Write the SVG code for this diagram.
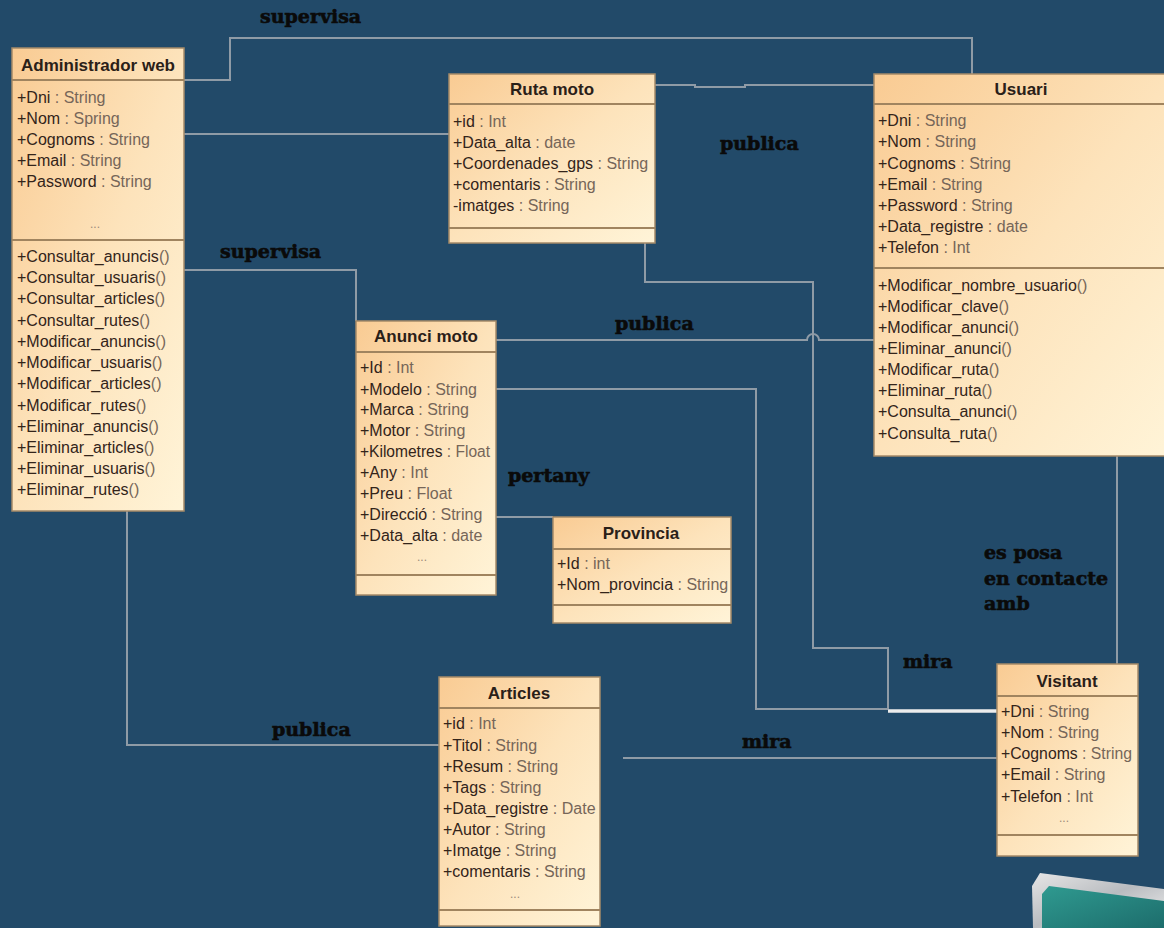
<svg xmlns="http://www.w3.org/2000/svg" width="1164" height="928" viewBox="0 0 1164 928">
<defs>
<linearGradient id="boxg" x1="0" y1="0" x2="1" y2="1">
<stop offset="0" stop-color="#f9cb93"/>
<stop offset="0.5" stop-color="#fde3bb"/>
<stop offset="1" stop-color="#fff4d8"/>
</linearGradient>
<linearGradient id="bezel" x1="0" y1="0" x2="1" y2="1">
<stop offset="0" stop-color="#e6e6e6"/>
<stop offset="0.5" stop-color="#b9bcc0"/>
<stop offset="1" stop-color="#f2f2f2"/>
</linearGradient>
<linearGradient id="screen" x1="0" y1="0" x2="1" y2="1">
<stop offset="0" stop-color="#2f9a90"/>
<stop offset="1" stop-color="#1d6d6c"/>
</linearGradient>
<style>
.box{fill:url(#boxg);stroke:#a58a68;stroke-width:1.5}
.sep{stroke:#a0845f;stroke-width:2}
.t{font-family:"Liberation Sans",Arial,sans-serif;font-size:17px;font-weight:bold;fill:#2a2018;text-anchor:middle}
.a{font-family:"Liberation Sans",Arial,sans-serif;font-size:16px;fill:#33241a}
.ty{fill:#766659}
.dots{font-family:"Liberation Sans",Arial,sans-serif;font-size:12px;fill:#9a8a7a;text-anchor:middle}
.c{stroke:#8f9ba6;stroke-width:2;fill:none}
.lb{font-family:"DejaVu Serif",serif;font-size:19px;font-weight:bold;fill:#0a0a0a;stroke:#0a0a0a;stroke-width:0.6}
</style>
</defs>
<rect width="1164" height="928" fill="#224a69"/>

<g id="connectors">
<polyline class="c" points="184,80 230,80 230,38 972,38 972,74"/>
<line class="c" x1="184" y1="134" x2="449" y2="134"/>
<polyline class="c" points="655,85 695,85 695,87 745,87 745,85 874,85"/>
<polyline class="c" points="184,270 356,270 356,321"/>
<path class="c" d="M496,340 H807 A6,6 0 0 1 819,340 H874"/>
<polyline class="c" points="645,243 645,282 813,282 813,648 888,648 888,709"/>
<polyline class="c" points="496,389 756,389 756,709 888,709"/>
<line x1="888" y1="711" x2="997" y2="711" stroke="#ececec" stroke-width="3.5"/>
<line class="c" x1="496" y1="517" x2="553" y2="517"/>
<polyline class="c" points="127,511 127,745 439,745"/>
<line class="c" x1="623" y1="758" x2="997" y2="758"/>
<line class="c" x1="1117" y1="456" x2="1117" y2="664"/>
<text class="lb" x="260" y="23">supervisa</text>
<text class="lb" x="720" y="150">publica</text>
<text class="lb" x="220" y="258">supervisa</text>
<text class="lb" x="615" y="330">publica</text>
<text class="lb" x="508" y="482">pertany</text>
<text class="lb" x="984" y="559">es posa</text>
<text class="lb" x="984" y="585">en contacte</text>
<text class="lb" x="984" y="610">amb</text>
<text class="lb" x="903" y="668">mira</text>
<text class="lb" x="272" y="736">publica</text>
<text class="lb" x="742" y="748">mira</text>
</g>

<g id="admin">
<rect class="box" x="12" y="48" width="172" height="463"/>
<line class="sep" x1="12" y1="80" x2="184" y2="80"/>
<line class="sep" x1="12" y1="240" x2="184" y2="240"/>
<text class="t" x="98" y="71">Administrador web</text>
<text class="a" x="17" y="103">+Dni<tspan class="ty"> : String</tspan></text>
<text class="a" x="17" y="124">+Nom<tspan class="ty"> : Spring</tspan></text>
<text class="a" x="17" y="145">+Cognoms<tspan class="ty"> : String</tspan></text>
<text class="a" x="17" y="166">+Email<tspan class="ty"> : String</tspan></text>
<text class="a" x="17" y="187">+Password<tspan class="ty"> : String</tspan></text>
<text class="dots" x="95" y="228">...</text>
<text class="a" x="17" y="262">+Consultar_anuncis<tspan class="ty">()</tspan></text>
<text class="a" x="17" y="283">+Consultar_usuaris<tspan class="ty">()</tspan></text>
<text class="a" x="17" y="304">+Consultar_articles<tspan class="ty">()</tspan></text>
<text class="a" x="17" y="326">+Consultar_rutes<tspan class="ty">()</tspan></text>
<text class="a" x="17" y="347">+Modificar_anuncis<tspan class="ty">()</tspan></text>
<text class="a" x="17" y="368">+Modificar_usuaris<tspan class="ty">()</tspan></text>
<text class="a" x="17" y="389">+Modificar_articles<tspan class="ty">()</tspan></text>
<text class="a" x="17" y="411">+Modificar_rutes<tspan class="ty">()</tspan></text>
<text class="a" x="17" y="432">+Eliminar_anuncis<tspan class="ty">()</tspan></text>
<text class="a" x="17" y="453">+Eliminar_articles<tspan class="ty">()</tspan></text>
<text class="a" x="17" y="474">+Eliminar_usuaris<tspan class="ty">()</tspan></text>
<text class="a" x="17" y="495">+Eliminar_rutes<tspan class="ty">()</tspan></text>
</g>

<g id="ruta">
<rect class="box" x="449" y="74" width="206" height="169"/>
<line class="sep" x1="449" y1="104" x2="655" y2="104"/>
<line class="sep" x1="449" y1="228" x2="655" y2="228"/>
<text class="t" x="552" y="95">Ruta moto</text>
<text class="a" x="453" y="127">+id<tspan class="ty"> : Int</tspan></text>
<text class="a" x="453" y="148">+Data_alta<tspan class="ty"> : date</tspan></text>
<text class="a" x="453" y="169">+Coordenades_gps<tspan class="ty"> : String</tspan></text>
<text class="a" x="453" y="190">+comentaris<tspan class="ty"> : String</tspan></text>
<text class="a" x="453" y="211">-imatges<tspan class="ty"> : String</tspan></text>
</g>

<g id="usuari">
<rect class="box" x="874" y="74" width="300" height="382"/>
<line class="sep" x1="874" y1="104" x2="1164" y2="104"/>
<line class="sep" x1="874" y1="268" x2="1164" y2="268"/>
<text class="t" x="1021" y="95">Usuari</text>
<text class="a" x="878" y="126">+Dni<tspan class="ty"> : String</tspan></text>
<text class="a" x="878" y="147">+Nom<tspan class="ty"> : String</tspan></text>
<text class="a" x="878" y="169">+Cognoms<tspan class="ty"> : String</tspan></text>
<text class="a" x="878" y="190">+Email<tspan class="ty"> : String</tspan></text>
<text class="a" x="878" y="211">+Password<tspan class="ty"> : String</tspan></text>
<text class="a" x="878" y="232">+Data_registre<tspan class="ty"> : date</tspan></text>
<text class="a" x="878" y="253">+Telefon<tspan class="ty"> : Int</tspan></text>
<text class="a" x="878" y="291">+Modificar_nombre_usuario<tspan class="ty">()</tspan></text>
<text class="a" x="878" y="312">+Modificar_clave<tspan class="ty">()</tspan></text>
<text class="a" x="878" y="333">+Modificar_anunci<tspan class="ty">()</tspan></text>
<text class="a" x="878" y="354">+Eliminar_anunci<tspan class="ty">()</tspan></text>
<text class="a" x="878" y="375">+Modificar_ruta<tspan class="ty">()</tspan></text>
<text class="a" x="878" y="396">+Eliminar_ruta<tspan class="ty">()</tspan></text>
<text class="a" x="878" y="417">+Consulta_anunci<tspan class="ty">()</tspan></text>
<text class="a" x="878" y="439">+Consulta_ruta<tspan class="ty">()</tspan></text>
</g>

<g id="anunci">
<rect class="box" x="356" y="321" width="140" height="274"/>
<line class="sep" x1="356" y1="352" x2="496" y2="352"/>
<line class="sep" x1="356" y1="575" x2="496" y2="575"/>
<text class="t" x="426" y="342">Anunci moto</text>
<text class="a" x="360" y="373">+Id<tspan class="ty"> : Int</tspan></text>
<text class="a" x="360" y="395">+Modelo<tspan class="ty"> : String</tspan></text>
<text class="a" x="360" y="415">+Marca<tspan class="ty"> : String</tspan></text>
<text class="a" x="360" y="436">+Motor<tspan class="ty"> : String</tspan></text>
<text class="a" x="360" y="457" textLength="130" lengthAdjust="spacingAndGlyphs">+Kilometres<tspan class="ty"> : Float</tspan></text>
<text class="a" x="360" y="478">+Any<tspan class="ty"> : Int</tspan></text>
<text class="a" x="360" y="499">+Preu<tspan class="ty"> : Float</tspan></text>
<text class="a" x="360" y="520">+Direcció<tspan class="ty"> : String</tspan></text>
<text class="a" x="360" y="541">+Data_alta<tspan class="ty"> : date</tspan></text>
<text class="dots" x="422" y="561">...</text>
</g>

<g id="provincia">
<rect class="box" x="553" y="517" width="178" height="106"/>
<line class="sep" x1="553" y1="549" x2="731" y2="549"/>
<line class="sep" x1="553" y1="605" x2="731" y2="605"/>
<text class="t" x="641" y="539">Provincia</text>
<text class="a" x="557" y="569">+Id<tspan class="ty"> : int</tspan></text>
<text class="a" x="557" y="590">+Nom_provincia<tspan class="ty"> : String</tspan></text>
</g>

<g id="articles">
<rect class="box" x="439" y="677" width="161" height="249"/>
<line class="sep" x1="439" y1="708" x2="600" y2="708"/>
<line class="sep" x1="439" y1="910" x2="600" y2="910"/>
<text class="t" x="519" y="699">Articles</text>
<text class="a" x="443" y="729">+id<tspan class="ty"> : Int</tspan></text>
<text class="a" x="443" y="751">+Titol<tspan class="ty"> : String</tspan></text>
<text class="a" x="443" y="772">+Resum<tspan class="ty"> : String</tspan></text>
<text class="a" x="443" y="793">+Tags<tspan class="ty"> : String</tspan></text>
<text class="a" x="443" y="814">+Data_registre<tspan class="ty"> : Date</tspan></text>
<text class="a" x="443" y="835">+Autor<tspan class="ty"> : String</tspan></text>
<text class="a" x="443" y="856">+Imatge<tspan class="ty"> : String</tspan></text>
<text class="a" x="443" y="877">+comentaris<tspan class="ty"> : String</tspan></text>
<text class="dots" x="515" y="898">...</text>
</g>

<g id="visitant">
<rect class="box" x="997" y="664" width="141" height="192"/>
<line class="sep" x1="997" y1="696" x2="1138" y2="696"/>
<line class="sep" x1="997" y1="835" x2="1138" y2="835"/>
<text class="t" x="1067" y="687">Visitant</text>
<text class="a" x="1001" y="717">+Dni<tspan class="ty"> : String</tspan></text>
<text class="a" x="1001" y="738">+Nom<tspan class="ty"> : String</tspan></text>
<text class="a" x="1001" y="759" textLength="131" lengthAdjust="spacingAndGlyphs">+Cognoms<tspan class="ty"> : String</tspan></text>
<text class="a" x="1001" y="780">+Email<tspan class="ty"> : String</tspan></text>
<text class="a" x="1001" y="802">+Telefon<tspan class="ty"> : Int</tspan></text>
<text class="dots" x="1064" y="822">...</text>
</g>

<g id="monitor">
<polygon points="1032,886 1040,873 1164,889 1164,928 1033,928" fill="url(#bezel)"/>
<polygon points="1042,894 1049,886 1164,901 1164,928 1042,928" fill="url(#screen)"/>
</g>
</svg>
